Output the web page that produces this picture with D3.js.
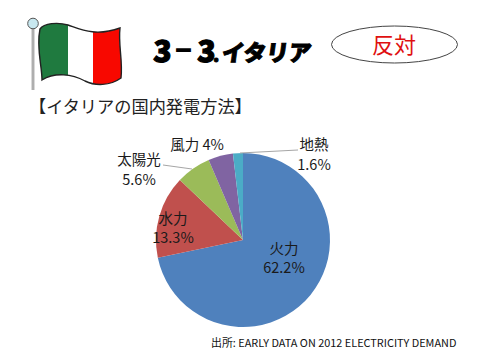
<!DOCTYPE html>
<html>
<head>
<meta charset="utf-8">
<script src="https://cdn.jsdelivr.net/npm/d3@7"></script>
<style>
  html, body { margin: 0; padding: 0; background: #fff; }
  text { font-family: "Noto Sans CJK JP", sans-serif; }
</style>
</head>
<body>
<div id="chart"></div>
<script>
const categories = ['火力', '水力', '太陽光', '風力', '地熱'];
const values = [62.2, 13.3, 5.6, 4, 1.6];
const valueLabels = ['62.2%', '13.3%', '5.6%', '4%', '1.6%'];
const colors = ['#4f81bd', '#c0504d', '#9bbb59', '#8064a2', '#4bacc6'];

const svg = d3.select('#chart').append('svg')
  .attr('width', 480).attr('height', 360)
  .style('display', 'block');

// flag
const flag = svg.append('g');
flag.append('line').attr('x1', 33).attr('y1', 28).attr('x2', 33).attr('y2', 90)
  .attr('stroke', '#ccc').attr('stroke-width', 3.5);
flag.append('line').attr('x1', 33).attr('y1', 28).attr('x2', 33).attr('y2', 90)
  .attr('stroke', '#777').attr('stroke-width', 0.7);
flag.append('circle').attr('cx', 33).attr('cy', 23.5).attr('r', 5.3)
  .attr('fill', '#c8e8f0').attr('stroke', '#555').attr('stroke-width', 1);

const flagOutline = 'M40,29 C44,23 58,22 68,25 C80,29 95,37 120,28 C118,45 123,60 121,78 C110,86 95,86 85,81 C72,74 55,72 42,80 C42,65 36,48 40,29 Z';
const clip = svg.append('clipPath').attr('id', 'flag-clip');
clip.append('path').attr('d', flagOutline);
const stripes = flag.append('g').attr('clip-path', 'url(#flag-clip)');
stripes.append('rect').attr('x', 36).attr('y', 18).attr('width', 33).attr('height', 72).attr('fill', '#1f7a3f');
stripes.append('rect').attr('x', 68).attr('y', 18).attr('width', 26).attr('height', 72).attr('fill', '#fff');
stripes.append('rect').attr('x', 93).attr('y', 18).attr('width', 30).attr('height', 72).attr('fill', '#f80800');
flag.append('path').attr('d', flagOutline).attr('fill', 'none').attr('stroke', '#222').attr('stroke-width', 1.4);

// title: digits are drawn heavier than the kana
function titlePart(x, y, size, skew, stroke, str) {
  svg.append('text')
    .attr('transform', `translate(${x},${y}) skewX(${skew})`)
    .attr('font-size', size).attr('font-weight', 900)
    .attr('stroke', '#000').attr('stroke-width', stroke)
    .text(str);
}
titlePart(153, 62, 30, -2, 1.2, '3');
titlePart(174, 58, 19, 0, 1.6, '－');
titlePart(197, 62, 30, -2, 1.2, '3');
titlePart(213, 62, 18, 0, 1, '.');
titlePart(221, 61, 22.5, -8, 1, 'イタリア');

// badge
svg.append('ellipse').attr('cx', 394.5).attr('cy', 44.5).attr('rx', 63).attr('ry', 18.5)
  .attr('fill', '#fff').attr('stroke', '#444').attr('stroke-width', 1);
svg.append('text').attr('x', 394).attr('y', 53).attr('text-anchor', 'middle')
  .attr('font-size', 22).attr('fill', '#e01010').text('反対');

// subtitle
svg.append('text').attr('x', 29).attr('y', 113)
  .attr('font-size', 17.2).attr('fill', '#222').text('【イタリアの国内発電方法】');

// pie
const cx = 243, cy = 240, radius = 87;
const pie = d3.pie().sort(null).value(d => d);
const arc = d3.arc().innerRadius(0).outerRadius(radius);
const arcs = pie(values);
const pieGroup = svg.append('g').attr('transform', `translate(${cx},${cy})`);
pieGroup.selectAll('path').data(arcs).enter().append('path')
  .attr('d', arc)
  .attr('fill', (d, i) => colors[i]);

// leader lines
const leader = d3.line();
svg.append('path').attr('d', leader([[163, 165], [192, 169]]))
  .attr('fill', 'none').attr('stroke', '#a6a6a6');
svg.append('path').attr('d', leader([[240, 153], [298, 150]]))
  .attr('fill', 'none').attr('stroke', '#a6a6a6');

// labels, two rows except 風力
const labelColor = '#1a1a1a';
function twoRow(i, x, y1, y2) {
  svg.append('text').attr('x', x).attr('y', y1).attr('text-anchor', 'middle')
    .attr('font-size', 14.5).attr('fill', labelColor).text(categories[i]);
  svg.append('text').attr('x', x).attr('y', y2).attr('text-anchor', 'middle')
    .attr('font-size', 14.5).attr('fill', labelColor).text(valueLabels[i]);
}
twoRow(0, 284, 254, 273);
twoRow(1, 173, 224, 243);
twoRow(2, 139, 165, 185);
twoRow(4, 314, 150, 170);
svg.append('text').attr('x', 197).attr('y', 150).attr('text-anchor', 'middle')
  .attr('font-size', 14.5).attr('fill', labelColor).text(`${categories[3]} ${valueLabels[3]}`);

// source
svg.append('text').attr('x', 211).attr('y', 347)
  .attr('font-size', 10.9).attr('fill', '#111')
  .text('出所: EARLY DATA ON 2012 ELECTRICITY DEMAND');
</script>
</body>
</html>
